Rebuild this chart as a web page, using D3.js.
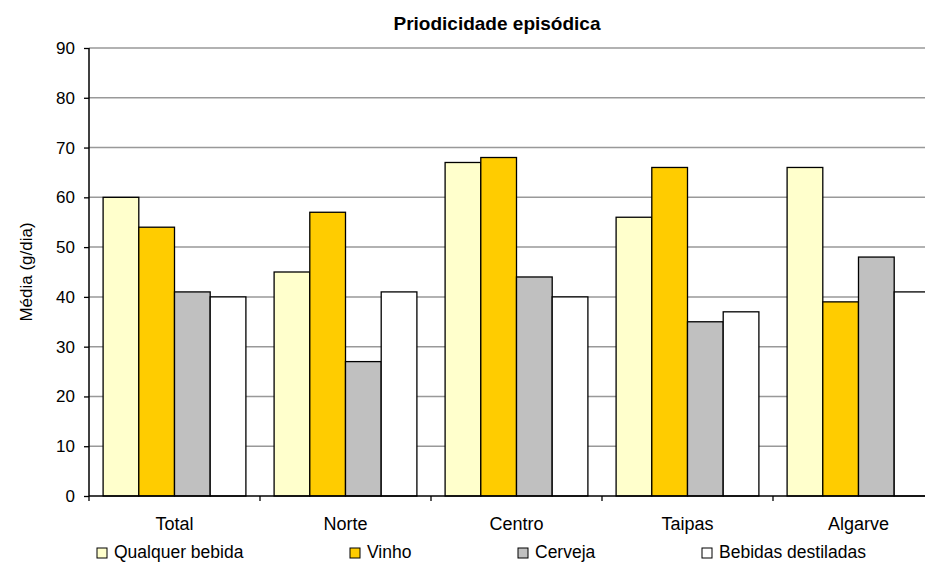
<!DOCTYPE html>
<html>
<head>
<meta charset="utf-8">
<script src="https://cdn.jsdelivr.net/npm/d3@7"></script>
<style>
  body { margin: 0; background: #fff; }
  svg { display: block; font-family: "Liberation Sans", Arial, sans-serif; }
</style>
</head>
<body>
<div id="wrapper"></div>
<script>
const categories = ["Total", "Norte", "Centro", "Taipas", "Algarve"];
const seriesNames = ["Qualquer bebida", "Vinho", "Cerveja", "Bebidas destiladas"];
const qualquer = [60, 45, 67, 56, 66];
const vinho = [54, 57, 68, 66, 39];
const cerveja = [41, 27, 44, 35, 48];
const destiladas = [40, 41, 40, 37, 41];
const yTicks = [0, 10, 20, 30, 40, 50, 60, 70, 80, 90];
const colors = ["#ffffcc", "#ffcc00", "#c0c0c0", "#ffffff"];

const values = [qualquer, vinho, cerveja, destiladas];
const dataset = categories.map((c, i) => ({
    category: c,
    values: seriesNames.map((s, j) => ({ series: s, value: values[j][i] }))
}));

let dimensions = {
    width: 925,
    height: 563,
    margin: { top: 48, left: 89, bottom: 67 },
    plotRight: 944
};
dimensions.boundedHeight = dimensions.height - dimensions.margin.top - dimensions.margin.bottom;

const wrapper = d3.select("#wrapper")
    .append("svg")
    .attr("width", dimensions.width)
    .attr("height", dimensions.height);

const yScale = d3.scaleLinear()
    .domain([0, 90])
    .range([dimensions.margin.top + dimensions.boundedHeight, dimensions.margin.top]);

const xScale = d3.scaleBand()
    .domain(categories)
    .range([dimensions.margin.left, dimensions.plotRight]);

const innerScale = d3.scaleBand()
    .domain(seriesNames)
    .range([0, xScale.bandwidth()])
    .paddingInner(0)
    .paddingOuter(0.395);

// gridlines
wrapper.append("g")
    .selectAll("line")
    .data(yTicks.filter(d => d > 0))
    .join("line")
    .attr("x1", dimensions.margin.left)
    .attr("x2", dimensions.plotRight)
    .attr("y1", d => yScale(d))
    .attr("y2", d => yScale(d))
    .attr("stroke", "#999")
    .attr("stroke-width", 1.5);

// bars
const groups = wrapper.append("g")
    .selectAll("g")
    .data(dataset)
    .join("g")
    .attr("transform", d => `translate(${xScale(d.category)},0)`);

groups.selectAll("rect")
    .data(d => d.values)
    .join("rect")
    .attr("x", d => innerScale(d.series))
    .attr("width", innerScale.bandwidth())
    .attr("y", d => yScale(d.value))
    .attr("height", d => yScale(0) - yScale(d.value))
    .attr("fill", (d, i) => colors[i])
    .attr("stroke", "#000")
    .attr("stroke-width", 1.3);

// y axis
const yAxisGenerator = d3.axisLeft(yScale)
    .tickValues(yTicks)
    .tickSize(5)
    .tickPadding(9);
const yAxis = wrapper.append("g")
    .attr("transform", `translate(${dimensions.margin.left},0)`)
    .call(yAxisGenerator);
yAxis.select(".domain").attr("stroke-width", 1.5).attr("d", `M-0,${yScale(90)}V${yScale(0)}`);
yAxis.selectAll(".tick line").attr("stroke-width", 1.3);
yAxis.selectAll("text")
    .attr("font-size", 17)
    .attr("font-family", "Liberation Sans, Arial, sans-serif")
    .attr("fill", "#000");

// x axis, ticks at category boundaries
wrapper.append("line")
    .attr("x1", dimensions.margin.left)
    .attr("x2", dimensions.plotRight)
    .attr("y1", yScale(0))
    .attr("y2", yScale(0))
    .attr("stroke", "#000")
    .attr("stroke-width", 1.5);

const boundaries = categories.map(c => xScale(c)).concat([xScale.range()[1]]);
wrapper.append("g")
    .selectAll("line")
    .data(boundaries)
    .join("line")
    .attr("x1", d => d)
    .attr("x2", d => d)
    .attr("y1", yScale(0))
    .attr("y2", yScale(0) + 5)
    .attr("stroke", "#000")
    .attr("stroke-width", 1.3);

wrapper.append("g")
    .selectAll("text")
    .data(categories)
    .join("text")
    .attr("x", d => xScale(d) + xScale.bandwidth() / 2)
    .attr("y", 530)
    .attr("text-anchor", "middle")
    .attr("font-size", 18)
    .text(d => d);

// title
wrapper.append("text")
    .attr("x", 497)
    .attr("y", 30)
    .attr("text-anchor", "middle")
    .attr("font-size", 19)
    .attr("font-weight", "bold")
    .text("Priodicidade episódica");

// y label
wrapper.append("text")
    .attr("transform", `translate(32,${yScale(45)}) rotate(-90)`)
    .attr("text-anchor", "middle")
    .attr("font-size", 17)
    .text("Média (g/dia)");

// legend
const legendX = [97, 350, 518, 702];
const legend = wrapper.append("g")
    .selectAll("g")
    .data(seriesNames)
    .join("g")
    .attr("transform", (d, i) => `translate(${legendX[i]},548)`);
legend.append("rect")
    .attr("width", 10)
    .attr("height", 10)
    .attr("fill", (d, i) => colors[i])
    .attr("stroke", "#000")
    .attr("stroke-width", 1);
legend.append("text")
    .attr("x", 17)
    .attr("y", 10)
    .attr("font-size", 17.5)
    .text(d => d);
</script>
</body>
</html>
